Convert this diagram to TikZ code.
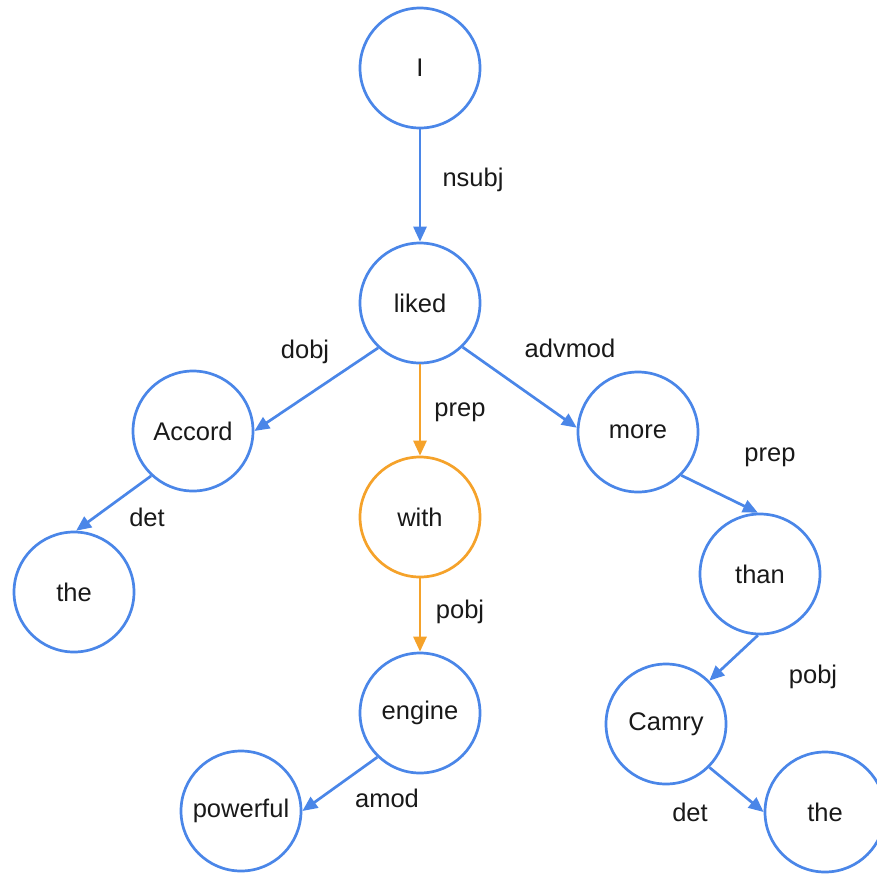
\documentclass[tikz,border=0pt]{standalone}
\usepackage{fontspec}
\setmainfont{Liberation Sans}
\usetikzlibrary{arrows.meta}
\definecolor{depblue}{HTML}{4A86E8}
\definecolor{deporange}{HTML}{F5A22A}
\begin{document}
\begin{tikzpicture}[x=1pt,y=-1pt,
  word/.style={circle, draw=depblue, line width=2.7pt, minimum size=120pt,
    inner sep=0pt, font=\fontsize{25.5}{28}\selectfont, text=black!90},
  hiword/.style={word, draw=deporange},
  dep/.style={draw=depblue, line width=2.7pt, -{Triangle[length=15pt,width=13pt]}},
  hidep/.style={dep, draw=deporange},
  rel/.style={font=\fontsize{25.5}{28}\selectfont, text=black!90}]
\useasboundingbox (0,0) rectangle (877,873);

% words of the sentence
\node[word] (I) at (420,68) {I};
\node[word] (liked) at (420,303) {liked};
\node[word] (accord) at (193,431) {Accord};
\node[word] (theL) at (74,592) {the};
\node[hiword] (with) at (420,517) {with};
\node[word] (engine) at (420,713) {engine};
\node[word] (powerful) at (241,811) {powerful};
\node[word] (more) at (638,432) {more};
\node[word] (than) at (760,574) {than};
\node[word] (camry) at (666,724) {Camry};
\node[word] (theR) at (825,812) {the};

% dependency arcs
\draw[dep] (I.south) -- (liked.north);
\draw[dep] (liked.227) -- (accord.0);
\draw[hidep] (liked.south) -- (with.north);
\draw[dep] (liked.314) -- (more.176);
\draw[dep] (accord.227) -- (theL.88);
\draw[hidep] (with.south) -- (engine.north);
\draw[dep] (engine.226) -- (powerful.0);
\draw[dep] (more.315) -- (than.92);
\draw[dep] (than.268) -- (camry.45);
\draw[dep] (camry.315) -- (theR.180);

% relation labels
\node[rel] (lnsubj) at (473,180) {nsubj};
\node[rel] (ldobj) at (305,352) {dobj};
\node[rel] (lprep1) at (460,412) {prep};
\node[rel] (ladvmod) at (570,348) {advmod};
\node[rel] (ldet1) at (147,517) {det};
\node[rel] (lprep2) at (770,457) {prep};
\node[rel] (lpobj1) at (460,612) {pobj};
\node[rel] (lamod) at (387,798) {amod};
\node[rel] (lpobj2) at (813,677) {pobj};
\node[rel] (ldet2) at (690,812) {det};
\end{tikzpicture}
\end{document}
